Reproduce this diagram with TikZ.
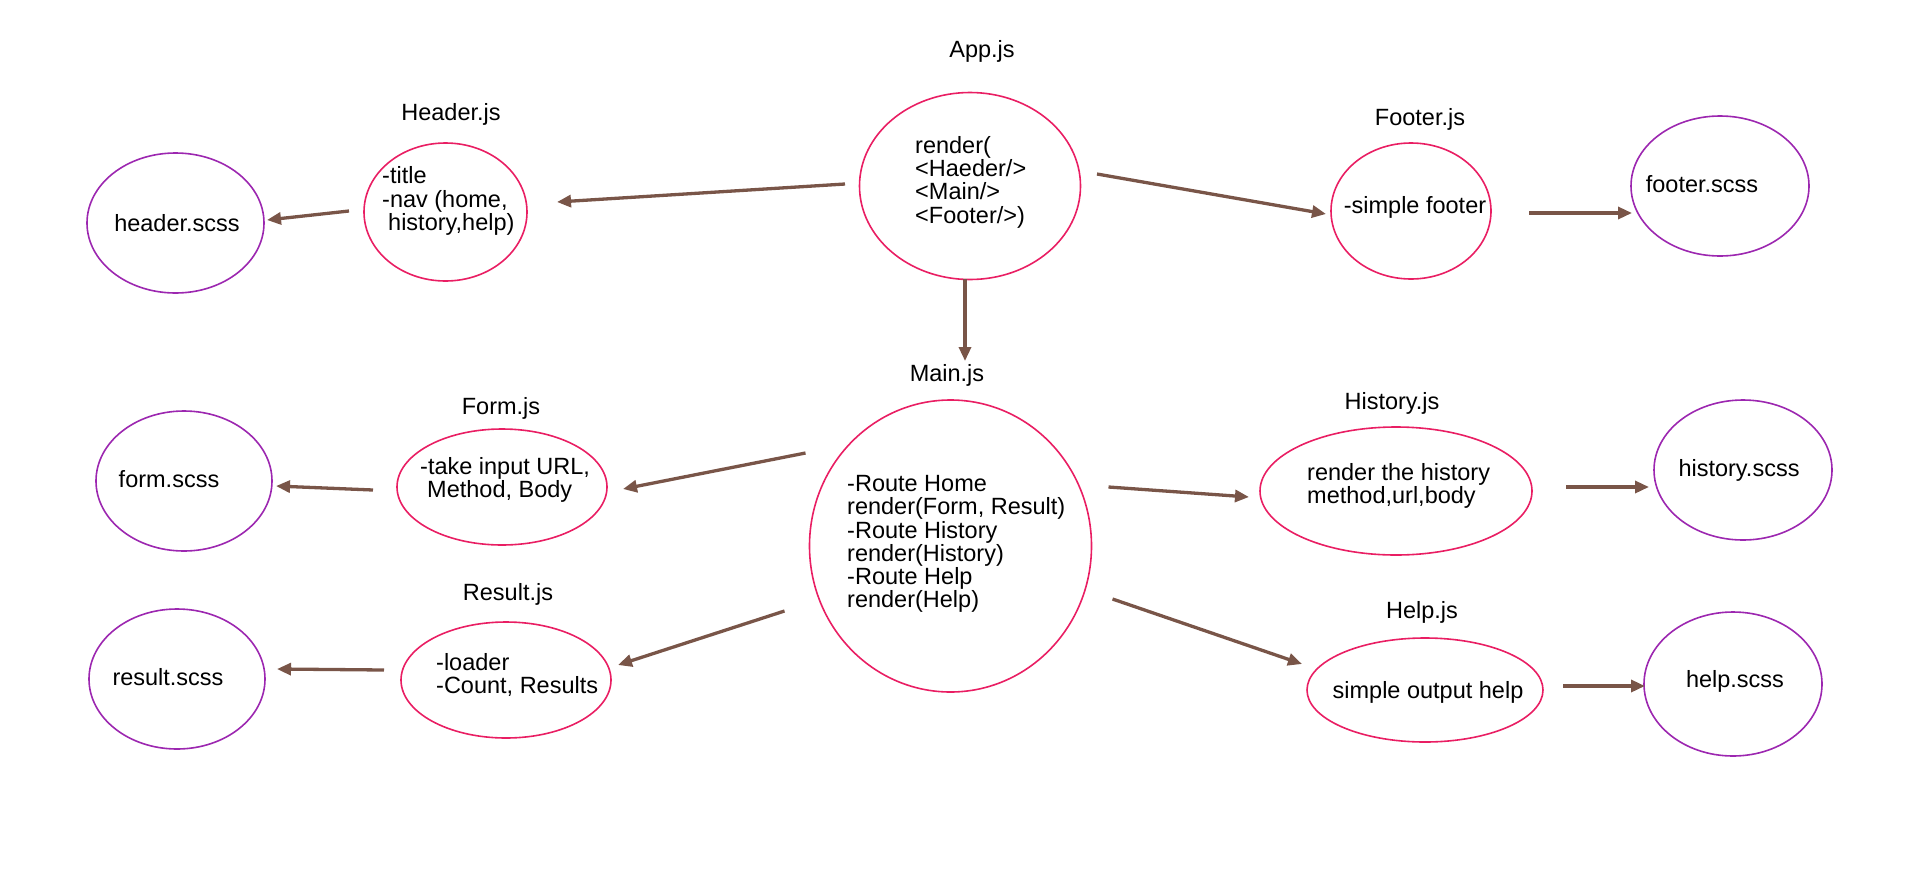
\documentclass[tikz,border=0pt]{standalone}
\usepackage{fontspec}
\setmainfont{Liberation Sans}
\usetikzlibrary{arrows.meta,shapes.geometric}
\definecolor{jsc}{HTML}{E91E63}
\definecolor{scssc}{HTML}{9C27B0}
\definecolor{arrc}{HTML}{795548}
\begin{document}
\begin{tikzpicture}[x=1pt,y=-1pt,
  jsnode/.style={draw=jsc, line width=1.6pt, ellipse, inner sep=0pt, outer sep=0pt},
  scssnode/.style={draw=scssc, line width=1.6pt, ellipse, inner sep=0pt, outer sep=0pt},
  txt/.style={inner sep=0pt, align=left, font=\fontsize{23.5}{23.3}\selectfont},
  ttl/.style={inner sep=0pt, font=\fontsize{23.5}{23.3}\selectfont},
  arr/.style={draw=arrc, line width=3.3pt, -{Triangle[length=14pt,width=12pt]}}]
\useasboundingbox (0,0) rectangle (1920,892);

% ellipses
\node[jsnode, minimum width=221pt, minimum height=187pt] (app) at (970,186) {};
\node[jsnode, minimum width=163pt, minimum height=138pt] (header) at (445.5,212) {};
\node[scssnode, minimum width=177pt, minimum height=140pt] (hscss) at (175.5,223) {};
\node[jsnode, minimum width=160pt, minimum height=136pt] (footer) at (1411,211) {};
\node[scssnode, minimum width=178pt, minimum height=140pt] (fscss) at (1720,186) {};
\node[jsnode, minimum width=282pt, minimum height=292pt] (main) at (950.5,546) {};
\node[jsnode, minimum width=210pt, minimum height=116pt] (form) at (502,487) {};
\node[scssnode, minimum width=176pt, minimum height=140pt] (formscss) at (184,481) {};
\node[jsnode, minimum width=210pt, minimum height=116pt] (result) at (506,680) {};
\node[scssnode, minimum width=176pt, minimum height=140pt] (rscss) at (177,679) {};
\node[jsnode, minimum width=272pt, minimum height=128pt] (history) at (1396,491) {};
\node[scssnode, minimum width=178pt, minimum height=140pt] (hiscss) at (1743,470) {};
\node[jsnode, minimum width=236pt, minimum height=104pt] (help) at (1425,690) {};
\node[scssnode, minimum width=178pt, minimum height=144pt] (helpscss) at (1733,684) {};

% texts inside
\node[txt, anchor=west] (appT) at (915,182) {render(\\<Haeder/>\\<Main/>\\<Footer/>)};
\node[txt, anchor=west] (headerT) at (382,201) {-title\\-nav (home,\\\hspace*{6pt}history,help)};
\node[txt] (hscssT) at (177,223) {header.scss};
\node[txt] (footerT) at (1415,207) {-simple footer};
\node[txt] (fscssT) at (1702,184) {footer.scss};
\node[txt, anchor=west] (mainT) at (847,544) {-Route Home\\render(Form, Result)\\-Route History\\render(History)\\-Route Help\\render(Help)};
\node[txt, anchor=west] (formT) at (420,480) {-take input URL,\\\hspace*{7pt}Method, Body};
\node[txt] (formscssT) at (169,479) {form.scss};
\node[txt, anchor=west] (resultT) at (436,675) {-loader\\-Count, Results};
\node[txt] (rscssT) at (168,677) {result.scss};
\node[txt, anchor=west] (historyT) at (1307,486) {render the history\\method,url,body};
\node[txt] (hiscssT) at (1739,470) {history.scss};
\node[txt] (helpT) at (1428,692) {simple output help};
\node[txt] (helpscssT) at (1735,681) {help.scss};

% titles
\node[ttl] (appL) at (982,51) {App.js};
\node[ttl] (headerL) at (451,114) {Header.js};
\node[ttl] (footerL) at (1420,119) {Footer.js};
\node[ttl] (mainL) at (947,375) {Main.js};
\node[ttl] (formL) at (501,408) {Form.js};
\node[ttl] (resultL) at (508,594) {Result.js};
\node[ttl] (historyL) at (1392,403) {History.js};
\node[ttl] (helpL) at (1422,612) {Help.js};

% connectors
\draw[arr] ([shift={(-125,-2)}]app.center) -- ([shift={(111.5,-10)}]header.center);
\draw[arr] ([shift={(-96.5,-1)}]header.center) -- ([shift={(91.5,-3)}]hscss.center);
\draw[arr] ([shift={(127,-12)}]app.center) -- ([shift={(-85,3)}]footer.center);
\draw[arr] ([shift={(118,2)}]footer.center) -- ([shift={(-88,27)}]fscss.center);
\draw[arr] ([shift={(-5,93)}]app.center) -- ([shift={(18,-14)}]mainL.center);
\draw[arr] ([shift={(-145,-93)}]main.center) -- ([shift={(121,2)}]form.center);
\draw[arr] ([shift={(-129,3)}]form.center) -- ([shift={(92,5)}]formscss.center);
\draw[arr] ([shift={(-166,65)}]main.center) -- ([shift={(112,-15)}]result.center);
\draw[arr] ([shift={(-122,-10)}]result.center) -- ([shift={(100,-10)}]rscss.center);
\draw[arr] ([shift={(158,-59)}]main.center) -- ([shift={(-147,6)}]history.center);
\draw[arr] ([shift={(170,-4)}]history.center) -- ([shift={(-94,17)}]hiscss.center);
\draw[arr] ([shift={(162,53)}]main.center) -- ([shift={(-123,-26)}]help.center);
\draw[arr] ([shift={(138,-4)}]help.center) -- ([shift={(-88,2)}]helpscss.center);
\end{tikzpicture}
\end{document}
